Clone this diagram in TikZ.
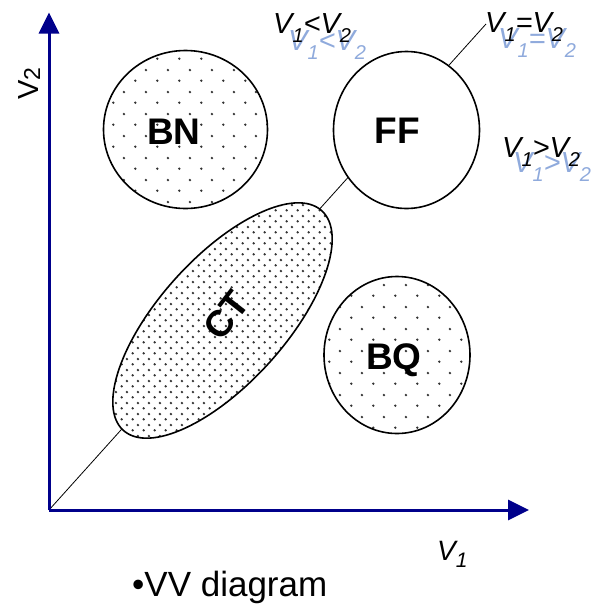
\documentclass[tikz,border=0pt]{standalone}
\usepackage{fontspec}
\setmainfont{Liberation Sans}
\usetikzlibrary{arrows.meta,shapes.geometric,patterns.meta}

\definecolor{axisblue}{RGB}{0,0,139}
\definecolor{ghost}{RGB}{143,170,220}

\tikzdeclarepattern{
  name=sparsedots, type=colored,
  bounding box={(0pt,0pt) and (21.6pt,21.6pt)},
  tile size={(21.6pt,21.6pt)},
  code={\fill[black!80] (5.4pt,5.4pt) circle (1.35pt);
        \fill[black!80] (16.2pt,16.2pt) circle (1.35pt);}
}
\tikzdeclarepattern{
  name=densedots, type=colored,
  bounding box={(0pt,0pt) and (10.8pt,10.8pt)},
  tile size={(10.8pt,10.8pt)},
  code={\fill[black!80] (2.7pt,2.7pt) circle (1.3pt);
        \fill[black!80] (8.1pt,8.1pt) circle (1.3pt);}
}

\newcommand\subsc[1]{\raisebox{-9pt}{\fontsize{20}{21}\selectfont\itshape #1}}
\newcommand\vrel[3]{V\subsc{#1}#2V\subsc{#3}}

\begin{document}
\begin{tikzpicture}[x=1pt,y=-1pt,
  region/.style={ellipse, draw=black, line width=1.6pt, inner sep=0pt, preaction={fill=white}},
  big/.style={font=\fontsize{37}{40}\selectfont\bfseries, inner sep=0pt},
  rel/.style={anchor=base west, inner sep=0pt, font=\fontsize{29}{30}\selectfont\itshape},
  relghost/.style={rel, text=ghost},
  axis/.style={draw=axisblue, line width=3pt, -{Triangle[length=21pt,width=20pt]}}
]
\useasboundingbox (0,0) rectangle (590,606);

% axes
\coordinate (O) at (49,510);
\coordinate (Ytop) at (49,12.5);
\coordinate (Xend) at (529,510);
\coordinate (D) at (486,24);
\draw[black, line width=0.8pt] (O) -- (D);
\draw[axis] (O) -- (Ytop);
\draw[axis] (O) -- (Xend);

% regions
\node[region, pattern=sparsedots, minimum width=164pt, minimum height=158pt] (BNc) at (185.5,129.5) {};
\node[region, minimum width=146pt, minimum height=157pt] (FFc) at (406.5,130) {};
\node[region, pattern=sparsedots, minimum width=146pt, minimum height=157pt] (BQc) at (397,355) {};
\node[region, pattern=densedots, minimum width=296pt, minimum height=126pt, rotate=47.9] (CTc) at (222.5,320.5) {};

% region labels
\node[big, anchor=base] (BN) at (174,144.5) {BN};
\node[big, anchor=base] (FF) at (397.5,143.8) {FF};
\node[big, anchor=base] (BQ) at (394,369) {BQ};
\node[big, rotate=52] (CT) at (226.5,315) {CT};

% relation labels (ghost copies first)
\node[relghost] (ltg) at (288,50) {\vrel{1}{<}{2}};
\node[rel] (lt) at (273,33) {\vrel{1}{<}{2}};
\node[relghost] (eqg) at (498,48) {\vrel{1}{=}{2}};
\node[rel] (eq) at (485,32) {\vrel{1}{=}{2}};
\node[relghost] (gtg) at (513,172) {\vrel{1}{>}{2}};
\node[rel] (gt) at (502,157) {\vrel{1}{>}{2}};

% axis labels
\node[anchor=base west, inner sep=0pt, font=\fontsize{28}{30}\selectfont\itshape] (v1) at (437,560)
  {V\raisebox{-7pt}{\fontsize{21}{22}\selectfont 1}};
\node[anchor=base west, inner sep=0pt, rotate=90, font=\fontsize{29}{30}\selectfont] (v2) at (38,100)
  {V\raisebox{-2pt}{\fontsize{23}{24}\selectfont 2}};

% caption
\node[anchor=base west, inner sep=0pt, font=\fontsize{35}{38}\selectfont] (cap) at (132,596) {•VV diagram};
\end{tikzpicture}
\end{document}
